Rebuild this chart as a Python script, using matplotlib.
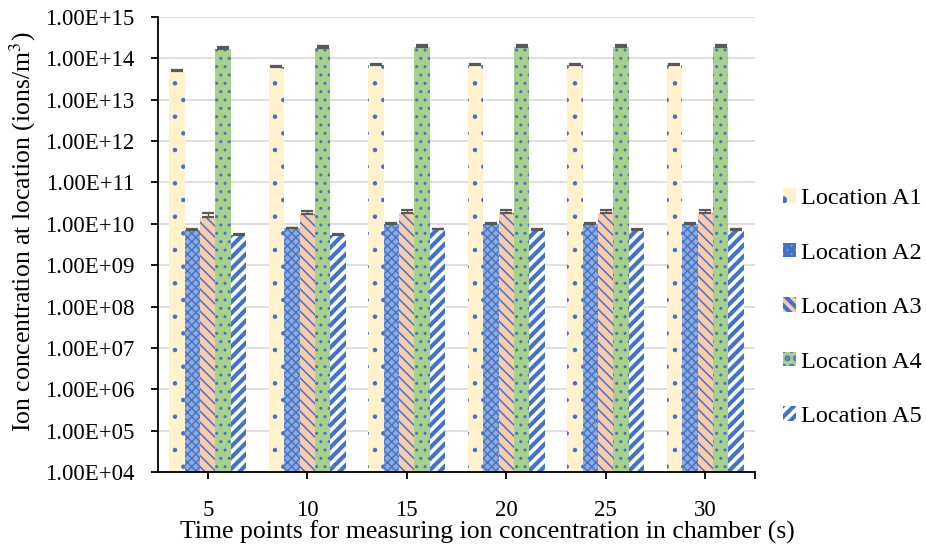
import matplotlib
matplotlib.use("Agg")
import matplotlib.pyplot as plt
import numpy as np
from matplotlib.ticker import FuncFormatter, FixedLocator, NullLocator

plt.rcParams['font.family'] = ['Liberation Serif', 'DejaVu Serif']
plt.rcParams['mathtext.fontset'] = 'stix'

categories = ['5', '10', '15', '20', '25', '30']
series_names = ['Location A1', 'Location A2', 'Location A3', 'Location A4', 'Location A5']

A1 = [5.0e13, 6.3e13, 6.9e13, 7.0e13, 7.0e13, 7.0e13]
A2 = [7.1e9, 7.8e9, 1.0e10, 1.0e10, 1.0e10, 1.0e10]
A3 = [1.45e10, 1.7e10, 1.8e10, 1.78e10, 1.78e10, 1.78e10]
A4 = [1.68e14, 1.75e14, 1.86e14, 1.86e14, 1.86e14, 1.86e14]
A5 = [5.4e9, 5.5e9, 7.4e9, 7.1e9, 7.1e9, 7.1e9]

A1_err = [2.5e12, 3.0e12, 3.0e12, 3.0e12, 3.0e12, 3.0e12]
A2_err = [3.0e8, 3.0e8, 4.0e8, 4.0e8, 4.0e8, 4.0e8]
A3_err = [3.5e9, 3.5e9, 3.5e9, 3.5e9, 3.5e9, 3.5e9]
A4_err = [2.5e13, 2.5e13, 2.5e13, 2.5e13, 2.5e13, 2.5e13]
A5_err = [3.0e8, 3.0e8, 3.0e8, 3.0e8, 3.0e8, 3.0e8]

values = [A1, A2, A3, A4, A5]
errors = [A1_err, A2_err, A3_err, A4_err, A5_err]

faces = ['#FFF2CC', '#8FAADC', '#F8CBAD', '#A9D18E', '#FFFFFF']
hatch_colors = ['#4472C4', '#4472C4', '#4472C4', '#4472C4', '#4472C4']
hatches = ['.', 'xxxx', '\\\\\\', '..', '///']
hatch_lw = [0.8, 1.0, 1.1, 1.0, 3.0]

fig = plt.figure(figsize=(9.26, 5.5), dpi=100)
ax = fig.add_axes([158/926, 1-472/550, (755-158)/926, (472-17)/550])

x = np.arange(len(categories))
bw = 0.155
for i, (vals, errs) in enumerate(zip(values, errors)):
    plt.rcParams['hatch.linewidth'] = hatch_lw[i]
    pos = x + (i - 2) * bw
    ax.bar(pos, vals, width=bw, color=faces[i], edgecolor=hatch_colors[i],
           hatch=hatches[i], linewidth=0, label=series_names[i], zorder=2)
    ax.errorbar(pos, vals, yerr=[np.zeros(len(errs)), errs], fmt='none',
                ecolor='#595959', elinewidth=1.0, capsize=4.2, capthick=1.6, zorder=3)

ax.set_yscale('log')
ax.set_ylim(1e4, 1e15)
ax.set_xlim(-0.5, len(categories) - 0.5)
ax.yaxis.set_major_locator(FixedLocator([10.0**k for k in range(4, 16)]))
ax.yaxis.set_minor_locator(NullLocator())
ax.yaxis.set_major_formatter(FuncFormatter(lambda v, p: f"{v:.2E}"))
ax.set_xticks(x)
ax.set_xticklabels(categories)
ax.set_xticks([len(categories) - 0.5], minor=True)
ax.grid(axis='y', color='#D9D9D9', linewidth=1.2, zorder=0)
ax.set_axisbelow(True)
for s in ['top', 'right']:
    ax.spines[s].set_visible(False)
ax.spines['left'].set_linewidth(1.3)
ax.spines['bottom'].set_linewidth(1.3)
ax.tick_params(axis='both', which='both', direction='out', length=5, width=1.3, labelsize=16.5)
ax.tick_params(axis='x', pad=15)
ax.tick_params(axis='y', pad=12)

fig.text(487/926, 1-532/550, 'Time points for measuring ion concentration in chamber (s)',
         fontsize=18.5, ha='center', va='center')
fig.text(23/926, 1-232/550, 'Ion concentration at location (ions/m$^3$)',
         fontsize=18.5, ha='center', va='center', rotation=90)

leg = fig.legend(loc='upper left', bbox_to_anchor=(783/926, 1-188/550), frameon=False,
                 fontsize=17.5, handlelength=0.55, handleheight=0.55, handletextpad=0.2,
                 labelspacing=1.38, borderaxespad=0, borderpad=0)

fig.savefig('out.png', dpi=100)
